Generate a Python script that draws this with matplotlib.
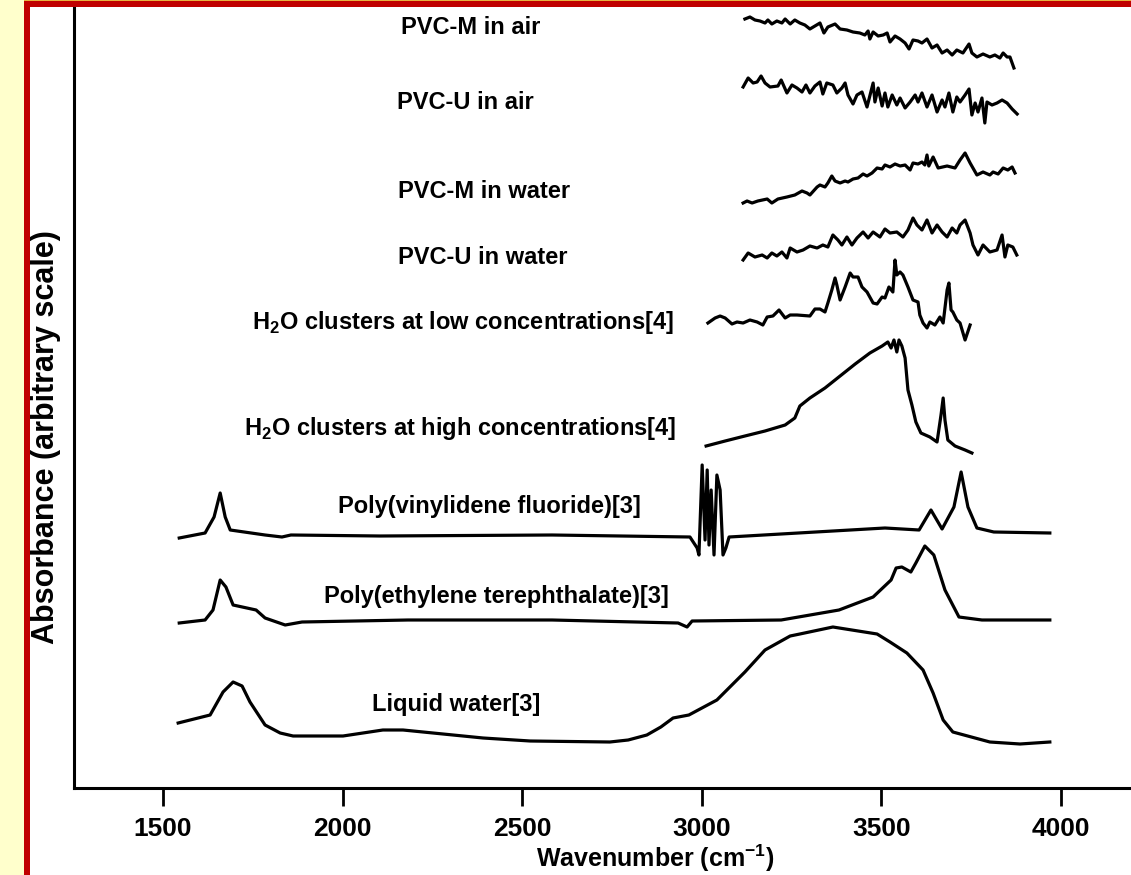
import numpy as np
import matplotlib.pyplot as plt
from matplotlib.patches import Rectangle

plt.rcParams['font.family'] = ['Liberation Sans', 'DejaVu Sans']
plt.rcParams['font.weight'] = 'bold'
plt.rcParams['mathtext.fontset'] = 'custom'
plt.rcParams['mathtext.rm'] = 'Liberation Sans:bold'

# Spectra (wavenumber in cm-1, absorbance in arbitrary units, stacked)
water_wn = [1542, 1631, 1667, 1695, 1720, 1742, 1784, 1826, 1862, 2001, 2112, 2168, 2391, 2522,
            2744, 2795, 2847, 2886, 2920, 2964, 3042, 3120, 3176, 3246, 3273, 3365, 3488, 3524,
            3571, 3616, 3644, 3672, 3699, 3802, 3886, 3969]
water_a = [65, 73, 96, 106, 102, 86, 63, 55, 52, 52, 58, 58, 50, 47,
           46, 48, 53, 61, 70, 73, 88, 116, 138, 152, 154, 161, 154, 146,
           135, 118, 95, 68, 56, 46, 44, 46]

pet_wn = [1545, 1617, 1639, 1659, 1675, 1695, 1759, 1784, 1840, 1887, 2182, 2583, 2934, 2959,
          2973, 3221, 3382, 3477, 3527, 3541, 3557, 3582, 3596, 3621, 3646, 3677, 3716, 3780, 3969]
pet_a = [165, 168, 178, 208, 201, 183, 178, 170, 163, 166, 168, 168, 165, 161,
         167, 168, 178, 191, 208, 220, 221, 216, 225, 242, 233, 198, 171, 168, 168]

pvdf_wn = [1545, 1617, 1642, 1659, 1673, 1687, 1784, 1831, 1856, 2104, 2583, 2967, 2987, 2992,
           3001, 3009, 3015, 3020, 3026, 3034, 3042, 3051, 3059, 3067, 3076, 3510, 3605, 3638,
           3669, 3702, 3722, 3741, 3766, 3813, 3969]
pvdf_a = [250, 255, 271, 295, 271, 258, 253, 251, 253, 252, 253, 251, 240, 233,
          323, 248, 318, 243, 298, 233, 313, 298, 233, 240, 251, 260, 258, 278,
          259, 281, 316, 281, 260, 256, 255]

h2o_high_wn = [3012, 3065, 3120, 3176, 3232, 3259, 3273, 3301, 3343, 3385, 3427, 3468, 3502, 3518,
               3527, 3535, 3543, 3549, 3557, 3566, 3574, 3585, 3596, 3610, 3635, 3655, 3666, 3672,
               3677, 3685, 3705, 3733, 3752]
h2o_high_a = [342, 347, 352, 357, 363, 370, 382, 390, 400, 412, 424, 435, 442, 446,
              440, 448, 436, 448, 442, 430, 398, 383, 366, 355, 351, 346, 373, 390,
              368, 348, 342, 338, 335]

h2o_low_wn = [3017, 3037, 3051, 3065, 3084, 3098, 3115, 3134, 3154, 3170, 3182, 3198, 3215, 3232,
              3246, 3265, 3301, 3315, 3329, 3343, 3351, 3362, 3371, 3376, 3385, 3399, 3413, 3421,
              3435, 3446, 3460, 3477, 3488, 3502, 3510, 3521, 3532, 3538, 3543, 3552, 3560, 3574,
              3588, 3602, 3607, 3616, 3627, 3635, 3649, 3663, 3672, 3683, 3688, 3694, 3699, 3710,
              3719, 3733, 3747]
h2o_low_a = [465, 470, 472, 470, 464, 466, 465, 468, 466, 463, 471, 472, 478, 470,
             473, 473, 472, 479, 479, 476, 485, 498, 510, 503, 488, 501, 515, 511,
             511, 501, 496, 485, 484, 491, 490, 501, 496, 528, 513, 516, 513, 501,
             488, 486, 473, 465, 460, 466, 463, 471, 465, 498, 505, 478, 476, 468,
             465, 448, 463]

pvcu_water_wn = [3115, 3129, 3148, 3168, 3182, 3195, 3209, 3223, 3237, 3246, 3265, 3282, 3301, 3321,
                 3337, 3351, 3365, 3379, 3390, 3404, 3418, 3432, 3449, 3463, 3477, 3496, 3510, 3524,
                 3543, 3560, 3574, 3588, 3599, 3613, 3627, 3641, 3655, 3669, 3683, 3697, 3710, 3719,
                 3733, 3747, 3755, 3769, 3783, 3802, 3822, 3836, 3844, 3852, 3866, 3877]
pvcu_water_a = [528, 535, 531, 533, 530, 535, 532, 536, 530, 540, 536, 538, 542, 540,
                543, 541, 553, 548, 543, 551, 543, 550, 556, 550, 556, 551, 559, 555,
                556, 551, 558, 570, 563, 558, 568, 555, 563, 556, 551, 560, 555, 563,
                568, 555, 543, 533, 543, 536, 538, 553, 531, 543, 541, 533]

pvcm_water_wn = [3115, 3126, 3140, 3156, 3182, 3195, 3212, 3237, 3259, 3279, 3293, 3301, 3321, 3329,
                 3343, 3351, 3362, 3371, 3385, 3399, 3407, 3421, 3435, 3449, 3460, 3474, 3488, 3502,
                 3510, 3524, 3538, 3552, 3566, 3580, 3588, 3602, 3613, 3621, 3627, 3632, 3644, 3658,
                 3683, 3705, 3719, 3733, 3747, 3766, 3783, 3802, 3811, 3825, 3839, 3852, 3864, 3872]
pvcm_water_a = [585, 587, 585, 587, 589, 585, 589, 591, 593, 597, 595, 593, 601, 603,
                601, 605, 612, 607, 605, 607, 606, 609, 610, 614, 612, 615, 620, 619,
                623, 621, 624, 622, 623, 618, 625, 624, 626, 623, 633, 622, 631, 620,
                622, 620, 628, 635, 625, 613, 616, 613, 616, 614, 620, 618, 621, 615]

pvcu_air_wn = [3115, 3129, 3143, 3154, 3165, 3176, 3190, 3212, 3221, 3237, 3251, 3265, 3279, 3290,
               3301, 3315, 3329, 3337, 3348, 3365, 3376, 3390, 3399, 3407, 3421, 3432, 3446, 3460,
               3477, 3482, 3491, 3502, 3510, 3518, 3530, 3543, 3552, 3566, 3580, 3594, 3602, 3613,
               3627, 3641, 3655, 3669, 3677, 3688, 3699, 3710, 3719, 3733, 3744, 3752, 3761, 3769,
               3780, 3788, 3794, 3808, 3822, 3836, 3850, 3864, 3878]
pvcu_air_a = [701, 710, 705, 706, 712, 705, 701, 702, 708, 695, 703, 700, 696, 703,
              695, 702, 706, 694, 705, 703, 695, 700, 705, 693, 684, 693, 696, 681,
              705, 686, 700, 682, 695, 681, 693, 683, 690, 680, 686, 693, 686, 695,
              681, 693, 676, 688, 681, 695, 676, 691, 686, 693, 699, 673, 685, 676,
              690, 665, 686, 683, 685, 688, 685, 679, 674]

pvcm_air_wn = [3120, 3134, 3148, 3162, 3176, 3184, 3195, 3209, 3223, 3232, 3246, 3259, 3273, 3287,
               3301, 3315, 3329, 3340, 3351, 3371, 3385, 3404, 3421, 3440, 3454, 3463, 3468, 3477,
               3491, 3505, 3516, 3524, 3538, 3552, 3566, 3577, 3588, 3602, 3613, 3627, 3641, 3655,
               3669, 3683, 3697, 3710, 3727, 3744, 3752, 3766, 3783, 3802, 3816, 3830, 3839, 3850,
               3858, 3869]
pvcm_air_a = [769, 771, 768, 767, 765, 768, 764, 767, 765, 769, 764, 768, 765, 763,
              759, 762, 765, 755, 761, 764, 759, 758, 756, 755, 753, 757, 749, 756,
              752, 753, 755, 746, 752, 749, 745, 739, 748, 747, 745, 749, 740, 743,
              735, 738, 733, 738, 735, 744, 735, 731, 734, 731, 733, 730, 735, 731,
              731, 720]

spectra = [(water_wn, water_a), (pet_wn, pet_a), (pvdf_wn, pvdf_a),
           (h2o_high_wn, h2o_high_a), (h2o_low_wn, h2o_low_a),
           (pvcu_water_wn, pvcu_water_a), (pvcm_water_wn, pvcm_water_a),
           (pvcu_air_wn, pvcu_air_a), (pvcm_air_wn, pvcm_air_a)]

# curve labels: text, wavenumber of centre, absorbance of centre
labels = ['Liquid water[3]', 'Poly(ethylene terephthalate)[3]', 'Poly(vinylidene fluoride)[3]',
          r'H$_{\rm 2}$O clusters at high concentrations[4]',
          r'H$_{\rm 2}$O clusters at low concentrations[4]',
          'PVC-U in water', 'PVC-M in water', 'PVC-U in air', 'PVC-M in air']
label_wn = [2316, 2427, 2408, 2327, 2335, 2391, 2394, 2341, 2357]
label_a = [84, 191, 281, 360, 466, 531, 597, 686, 761]

ticks = [1500, 2000, 2500, 3000, 3500, 4000]

fig = plt.figure(figsize=(11.31, 8.75), dpi=100)
fig.patch.set_facecolor('white')

ax = fig.add_axes([74 / 1131, 87 / 875, 1 - 74 / 1131, 788 / 875])
for wn, a in spectra:
    ax.plot(wn, a, color='black', lw=2.3, solid_joinstyle='round')
for txt, x, y in zip(labels, label_wn, label_a):
    ax.text(x, y, txt, fontsize=17, fontweight='bold', ha='center', va='center')

ax.set_xlim(1252, 4195)
ax.set_ylim(0, 788)
ax.set_xticks(ticks)
ax.set_yticks([])
ax.tick_params(axis='x', direction='out', length=13, width=2, pad=8, labelsize=19)
for lab in ax.get_xticklabels():
    lab.set_fontweight('bold')
ax.spines['top'].set_visible(False)
ax.spines['right'].set_visible(False)
ax.spines['left'].set_linewidth(2.2)
ax.spines['bottom'].set_linewidth(2.2)

fig.text(46 / 1131, 1 - 437 / 875, 'Absorbance (arbitrary scale)', rotation=90,
         fontsize=22, fontweight='bold', ha='center', va='center')
fig.text(655 / 1131, 8 / 875, r'Wavenumber (cm$^{\rm {-}1}$)', fontsize=18,
         fontweight='bold', ha='center', va='baseline')

# slide frame: yellow strip, red border
fig.add_artist(Rectangle((0, 0), 24 / 1131, 1, transform=fig.transFigure,
                         facecolor='#FFFFCC', edgecolor='none', zorder=10))
fig.add_artist(Rectangle((24 / 1131, 0), 6 / 1131, 1, transform=fig.transFigure,
                         facecolor='#C00000', edgecolor='none', zorder=11))
fig.add_artist(Rectangle((24 / 1131, 1 - 7 / 875), 1, 6 / 875, transform=fig.transFigure,
                         facecolor='#C00000', edgecolor='none', zorder=11))
fig.add_artist(Rectangle((24 / 1131, 1 - 1 / 875), 1, 1 / 875, transform=fig.transFigure,
                         facecolor='#E8B040', edgecolor='none', zorder=12))

fig.savefig('out.png', dpi=100)
